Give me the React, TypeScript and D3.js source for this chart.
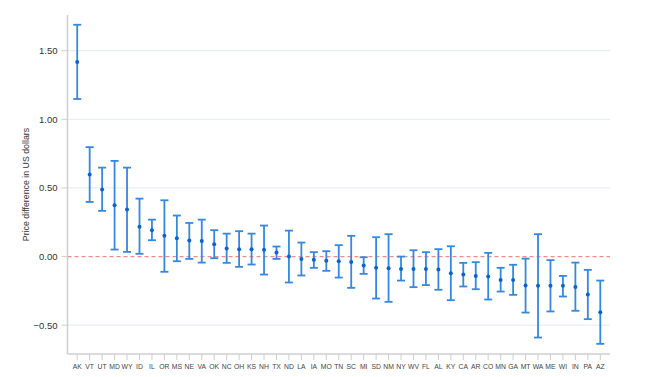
import React from "react";
import * as d3 from "d3";

const states = ["AK","VT","UT","MD","WY","ID","IL","OR","MS","NE","VA","OK","NC","OH","KS","NH","TX","ND","LA","IA","MO","TN","SC","MI","SD","NM","NY","WV","FL","AL","KY","CA","AR","CO","MN","GA","MT","WA","ME","WI","IN","PA","AZ"];
const estimates = [1.418,0.597,0.488,0.374,0.342,0.218,0.192,0.151,0.134,0.117,0.114,0.09,0.058,0.054,0.054,0.049,0.029,0.0,-0.017,-0.024,-0.031,-0.034,-0.039,-0.066,-0.082,-0.085,-0.09,-0.09,-0.09,-0.095,-0.121,-0.131,-0.141,-0.146,-0.17,-0.17,-0.211,-0.213,-0.213,-0.213,-0.221,-0.277,-0.405];
const upper = [1.689,0.797,0.648,0.697,0.648,0.422,0.269,0.41,0.299,0.245,0.269,0.192,0.167,0.185,0.167,0.226,0.073,0.189,0.102,0.032,0.039,0.083,0.151,-0.005,0.141,0.163,0.0,0.046,0.032,0.054,0.075,-0.046,-0.041,0.027,-0.082,-0.06,-0.015,0.163,-0.026,-0.141,-0.044,-0.097,-0.175];
const lower = [1.148,0.398,0.333,0.051,0.034,0.02,0.119,-0.111,-0.034,-0.017,-0.044,-0.012,-0.046,-0.075,-0.058,-0.131,-0.017,-0.189,-0.138,-0.082,-0.104,-0.153,-0.228,-0.126,-0.306,-0.33,-0.175,-0.223,-0.208,-0.242,-0.318,-0.218,-0.238,-0.313,-0.255,-0.279,-0.408,-0.59,-0.4,-0.291,-0.395,-0.456,-0.636];
const yTicks = [-0.5, 0, 0.5, 1.0, 1.5];
const yTitle = "Price difference in US dollars";

const W = 647, H = 377;
const left = 67.5, right = 610, top = 15, bottom = 354;

export default function App() {
  const x = d3.scalePoint<string>().domain(states).range([left, right]).padding(0.78);
  const y = d3.scaleLinear().domain([-0.71, 1.76]).range([bottom, top]);
  const font = "'Liberation Sans', Arial, Helvetica, sans-serif";
  const barColor = "#3488e2";
  const capW = 4;
  return (
    <svg width={W} height={H} style={{ position: "absolute", left: 0, top: 0 }} fontFamily={font}>
      <rect width={W} height={H} fill="#fff" />
      {yTicks.map((t) => (
        <g key={t}>
          {t !== 0 && (
            <line x1={left} x2={right} y1={y(t)} y2={y(t)} stroke="#e6eff0" strokeWidth={1.2} />
          )}
          <line x1={left - 6} x2={left} y1={y(t)} y2={y(t)} stroke="#cfcfcf" strokeWidth={1} />
          <text x={left - 10} y={y(t)} dy="0.35em" textAnchor="end" fontSize={9.5} fill="#333">
            {d3.format(".2f")(t)}
          </text>
        </g>
      ))}
      <line x1={left} x2={right} y1={y(0)} y2={y(0)} stroke="#f28b8b" strokeWidth={1.2} strokeDasharray="4,3" />
      <line x1={left} x2={left} y1={top} y2={bottom} stroke="#cfcfcf" strokeWidth={1.5} />
      <line x1={left} x2={right} y1={bottom} y2={bottom} stroke="#cfcfcf" strokeWidth={1.5} />
      {states.map((s) => (
        <g key={s}>
          <line x1={x(s)} x2={x(s)} y1={bottom} y2={bottom + 6} stroke="#cfcfcf" strokeWidth={1} />
          <text x={x(s)} y={bottom + 15} textAnchor="middle" fontSize={6.8} fill="#444">{s}</text>
        </g>
      ))}
      {states.map((s, i) => {
        const cx = x(s) as number;
        return (
          <g key={"e" + s}>
            <line x1={cx} x2={cx} y1={y(upper[i])} y2={y(lower[i])} stroke={barColor} strokeWidth={1.8} />
            <line x1={cx - capW} x2={cx + capW} y1={y(upper[i])} y2={y(upper[i])} stroke={barColor} strokeWidth={1.8} />
            <line x1={cx - capW} x2={cx + capW} y1={y(lower[i])} y2={y(lower[i])} stroke={barColor} strokeWidth={1.8} />
            <circle cx={cx} cy={y(estimates[i])} r={2} fill="#0b62d0" />
          </g>
        );
      })}
      <text transform={`translate(26, ${(top + bottom) / 2}) rotate(-90)`} textAnchor="middle" dy="0.35em" fontSize={8.8} fill="#333">
        {yTitle}
      </text>
    </svg>
  );
}
